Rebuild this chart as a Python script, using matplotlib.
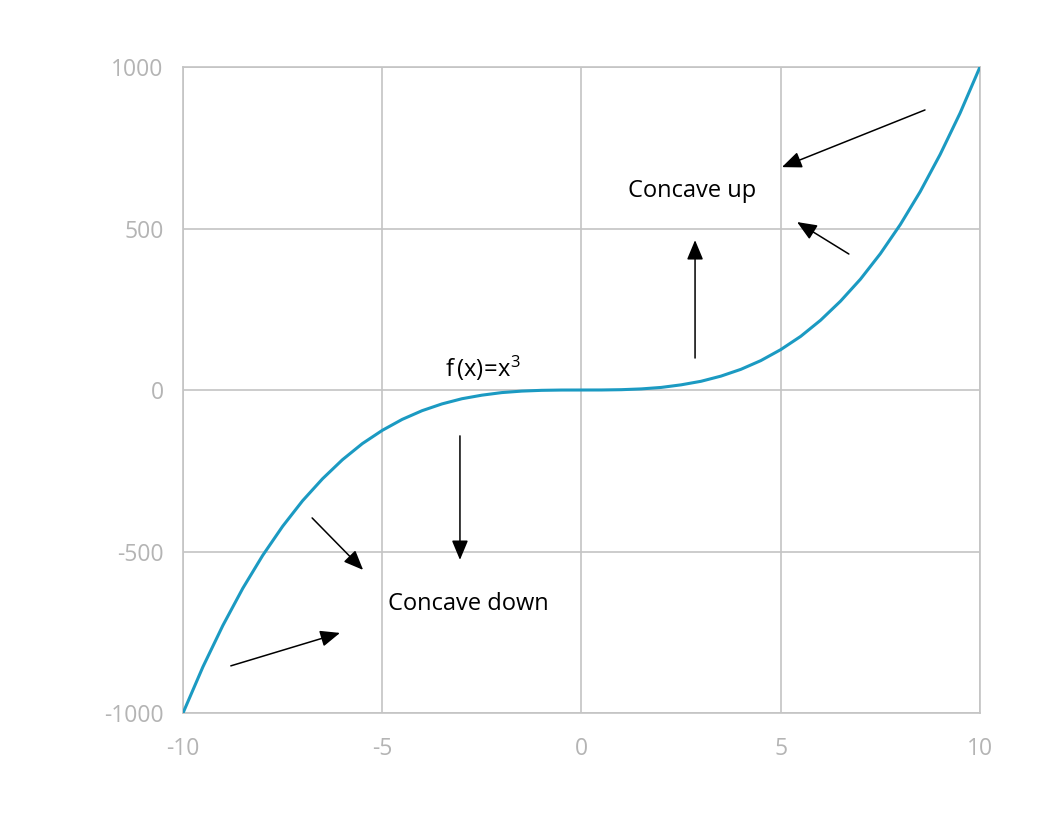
import matplotlib
matplotlib.use("Agg")
import matplotlib.pyplot as plt

# curve points (f(x) = x^3)
xs = [-10, -9.5, -9, -8.5, -8, -7.5, -7, -6.5, -6, -5.5, -5, -4.5, -4, -3.5, -3,
      -2.5, -2, -1.5, -1, -0.5, 0, 0.5, 1, 1.5, 2, 2.5, 3, 3.5, 4, 4.5, 5,
      5.5, 6, 6.5, 7, 7.5, 8, 8.5, 9, 9.5, 10]
ys = [-1000, -857, -729, -614, -512, -422, -343, -275, -216, -166, -125,
      -91, -64, -43, -27, -16, -8, -3.4, -1, -0.1, 0, 0.1, 1, 3.4, 8, 16,
      27, 43, 64, 91, 125, 166, 216, 275, 343, 422, 512, 614, 729, 857, 1000]

x_ticks = [-10, -5, 0, 5, 10]
y_ticks = [-1000, -500, 0, 500, 1000]

curve_label = r"$\mathrm{f\,(x)\!=\!x}^{3}$"
up_label = "Concave up"
down_label = "Concave down"

# (tail, head) pairs in data units
arrows = [
    ((8.62, 867), (5.03, 690)),
    ((6.71, 421), (5.41, 520)),
    ((2.85, 99), (2.85, 464)),
    ((-3.05, -142), (-3.05, -526)),
    ((-6.76, -396), (-5.48, -557)),
    ((-8.80, -854), (-6.06, -752)),
]

plt.rcParams["font.family"] = ["Open Sans", "DejaVu Sans"]
plt.rcParams["axes.unicode_minus"] = False
plt.rcParams["mathtext.fontset"] = "custom"
plt.rcParams["mathtext.rm"] = "Open Sans"
plt.rcParams["mathtext.it"] = "Open Sans"

fig = plt.figure(figsize=(10.56, 8.16), dpi=100)
ax = fig.add_axes([0.1733, 0.1262, 0.7547, 0.7917])

ax.plot(xs, ys, color="#1b9ac2", lw=2.2, zorder=3)

ax.set_xlim(-10, 10)
ax.set_ylim(-1000, 1000)
ax.set_xticks(x_ticks)
ax.set_yticks(y_ticks)
ax.grid(True, color="#c4c4c4", lw=1.2)
ax.set_axisbelow(True)
for s in ax.spines.values():
    s.set_color("#c4c4c4")
    s.set_linewidth(1.2)
ax.tick_params(length=0, labelsize=16.5, labelcolor="#b4b4b4")
ax.tick_params(axis="y", pad=14)
ax.tick_params(axis="x", pad=17)

for tail, head in arrows:
    ax.annotate("", xy=head, xytext=tail,
                arrowprops=dict(arrowstyle="-|>,head_length=0.6,head_width=0.25",
                                color="black", lw=1.1,
                                mutation_scale=20, shrinkA=0, shrinkB=0))

ax.text(2.77, 616, up_label, fontsize=17, ha="center", va="center")
ax.text(-2.85, -663, down_label, fontsize=17, ha="center", va="center")
ax.text(-2.47, 68, curve_label, fontsize=17, ha="center", va="center")

fig.savefig("out.png", dpi=100)
